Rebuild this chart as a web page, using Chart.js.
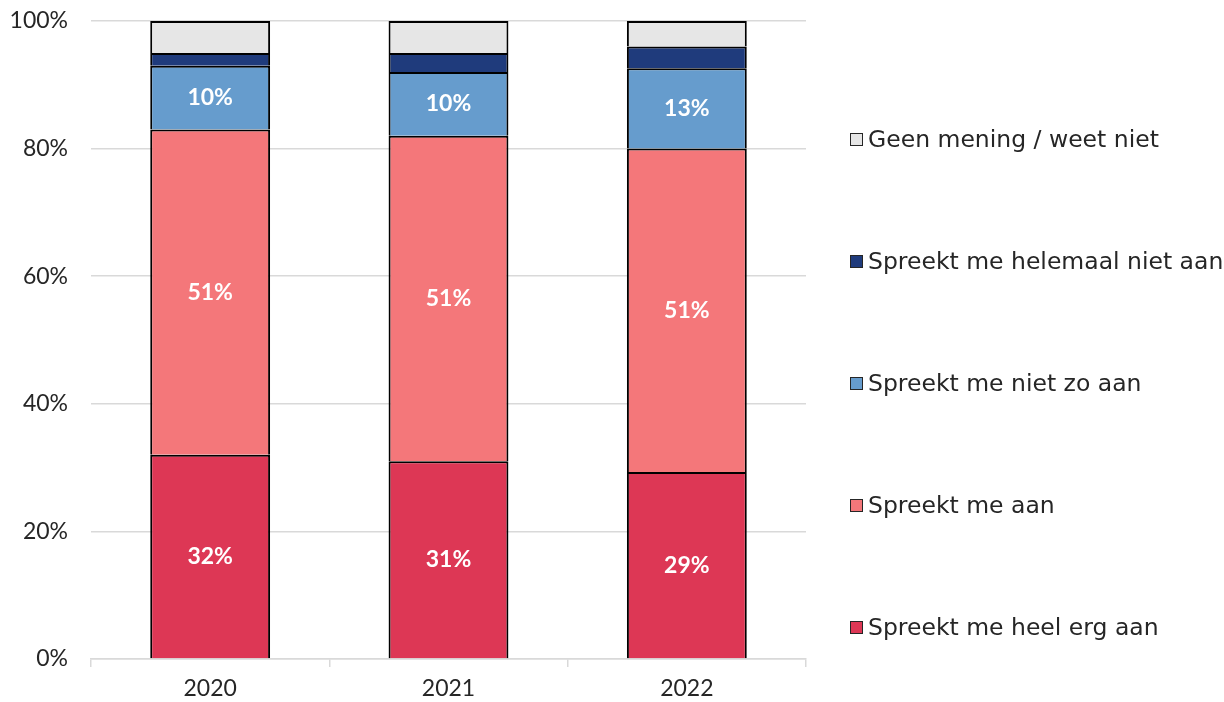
<!DOCTYPE html>
<html>
<head>
<meta charset="utf-8">
<script src="https://cdn.jsdelivr.net/npm/chart.js@4/dist/chart.umd.min.js"></script>
<style>
  html, body { margin: 0; padding: 0; background: #fff; }
  #wrap { position: relative; width: 1224px; height: 702px; }
  #c { position: absolute; left: 0; top: 0; }
  #legend { position: absolute; left: 850px; top: 78px; font-family: "DejaVu Sans", Lato, sans-serif; font-size: 23.5px; color: #262626; }
  .item { height: 122px; display: flex; align-items: center; white-space: nowrap; }
  .box { width: 13px; height: 13px; border: 1px solid #262626; margin-right: 5px; box-sizing: border-box; flex: none; }
</style>
</head>
<body>
<div id="wrap">
  <canvas id="c" width="1224" height="702"></canvas>
  <div id="legend"></div>
</div>
<script>
const categories = ['2020', '2021', '2022'];
const seriesNames = ['Spreekt me heel erg aan', 'Spreekt me aan', 'Spreekt me niet zo aan', 'Spreekt me helemaal niet aan', 'Geen mening / weet niet'];
const heelErgAan = [32, 31, 29.3];
const aan = [51, 51, 50.7];
const nietZoAan = [10, 10, 12.6];
const helemaalNietAan = [2, 3, 3.4];
const geenMening = [5, 5, 4];
const yTicks = [0, 20, 40, 60, 80, 100];

const colors = ['#DD3755', '#F4777A', '#669CCD', '#1F3B7C', '#E6E6E6'];
const values = [heelErgAan, aan, nietZoAan, helemaalNietAan, geenMening];
const labelled = [true, true, true, false, false];

const datasets = seriesNames.map((name, i) => ({
  label: name,
  data: values[i],
  backgroundColor: colors[i],
  borderColor: '#000000',
  borderWidth: { top: 2, bottom: 0, left: 2, right: 2 },
  borderSkipped: false,
  showLabels: labelled[i],
  categoryPercentage: 1.0,
  barPercentage: 0.503
}));

const barLabels = {
  id: 'barLabels',
  afterDatasetsDraw(chart) {
    const ctx = chart.ctx;
    ctx.save();
    ctx.font = 'bold 23px Lato, "DejaVu Sans", sans-serif';
    ctx.fillStyle = '#ffffff';
    ctx.textAlign = 'center';
    ctx.textBaseline = 'middle';
    chart.data.datasets.forEach((ds, i) => {
      if (!ds.showLabels) return;
      const meta = chart.getDatasetMeta(i);
      meta.data.forEach((bar, j) => {
        const p = bar.getProps(['x', 'y', 'base'], true);
        ctx.fillText(Math.round(ds.data[j]) + '%', p.x, (p.y + p.base) / 2);
      });
    });
    ctx.restore();
  }
};

const chart = new Chart(document.getElementById('c'), {
  type: 'bar',
  data: { labels: categories, datasets },
  options: {
    responsive: false,
    animation: false,
    layout: { padding: { top: 21, right: 418, bottom: 0, left: 0 } },
    plugins: { legend: { display: false }, tooltip: { enabled: false } },
    scales: {
      x: {
        stacked: true,
        afterFit(scale) { scale.height = 43; },
        grid: { display: true, drawOnChartArea: false, drawTicks: true, tickLength: 8, color: '#d9d9d9', lineWidth: 1.5 },
        border: { display: true, color: '#d9d9d9', width: 1.5 },
        ticks: { font: { family: 'Lato, "DejaVu Sans", sans-serif', size: 23 }, color: '#262626', padding: 8 }
      },
      y: {
        stacked: true,
        min: 0, max: 100,
        afterFit(scale) { scale.width = 91; scale.paddingTop = 0; scale.paddingBottom = 0; },
        afterBuildTicks(scale) { scale.ticks = yTicks.map(v => ({ value: v })); },
        grid: { color: '#d9d9d9', lineWidth: 1.5, drawTicks: false },
        border: { display: false },
        ticks: {
          font: { family: 'Lato, "DejaVu Sans", sans-serif', size: 23 },
          color: '#262626', padding: 23,
          callback: v => v + '%'
        }
      }
    }
  },
  plugins: [barLabels]
});

const legendEl = document.getElementById('legend');
chart.data.datasets.slice().reverse().forEach(ds => {
  const item = document.createElement('div');
  item.className = 'item';
  const box = document.createElement('span');
  box.className = 'box';
  box.style.background = ds.backgroundColor;
  const txt = document.createElement('span');
  txt.textContent = ds.label;
  item.appendChild(box);
  item.appendChild(txt);
  legendEl.appendChild(item);
});
</script>
</body>
</html>
